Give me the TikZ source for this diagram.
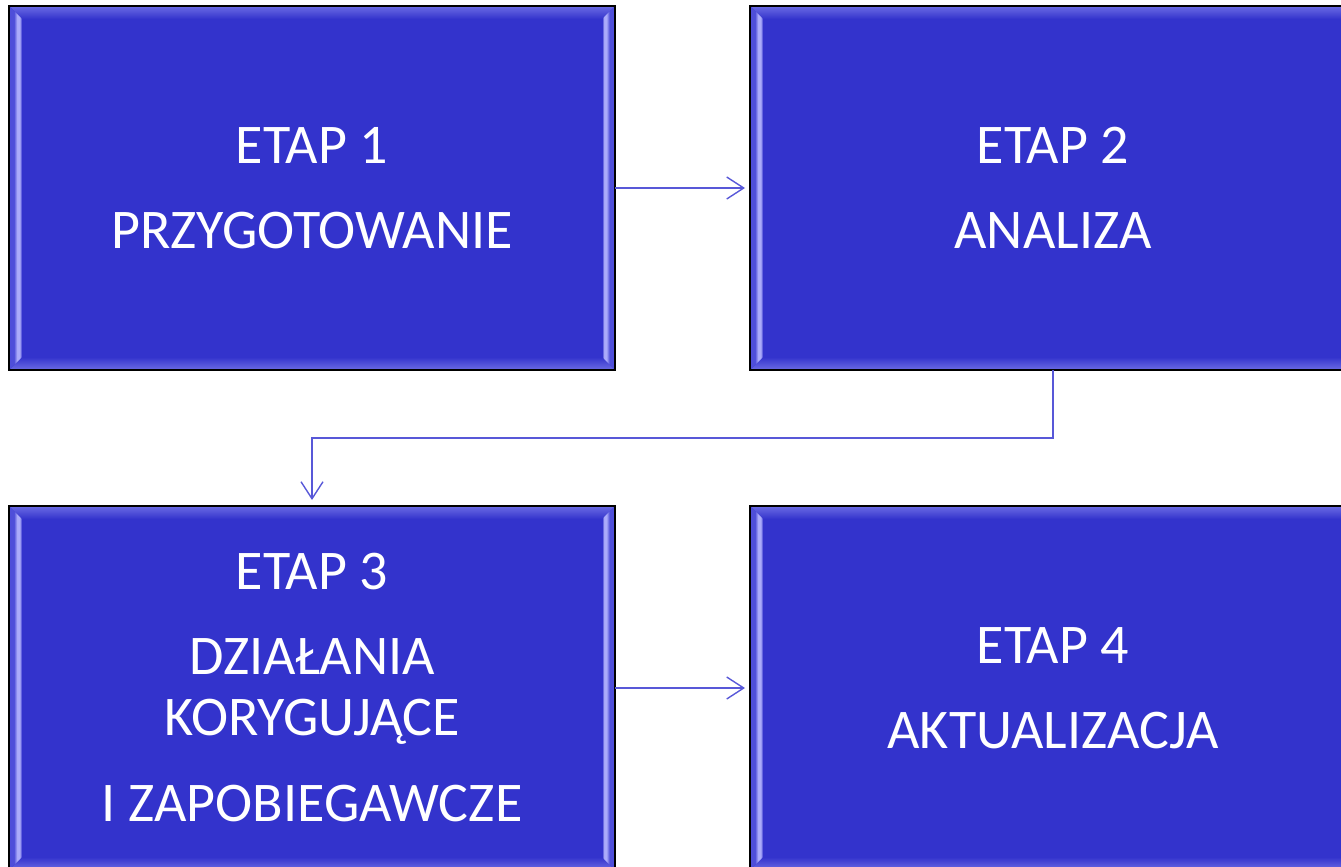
\documentclass[tikz,border=0pt]{standalone}
\usepackage{fontspec}
\setmainfont{Carlito}
\usetikzlibrary{positioning,arrows.meta}

\definecolor{etapfill}{HTML}{3333CC}
\definecolor{bevellight}{HTML}{ABABFA}
\definecolor{bevelmid}{HTML}{4E4ED9}
\definecolor{beveledge}{HTML}{6C6CE4}
\definecolor{linkblue}{HTML}{5858D8}

\pgfdeclarehorizontalshading{bevelleft}{100bp}{color(0bp)=(bevelmid); color(25bp)=(bevelmid);
  color(44bp)=(bevelmid); color(56bp)=(bevellight); color(66bp)=(bevellight);
  color(75bp)=(etapfill); color(100bp)=(etapfill)}
\pgfdeclarehorizontalshading{bevelright}{100bp}{color(0bp)=(etapfill); color(25bp)=(etapfill);
  color(33bp)=(bevellight); color(42bp)=(bevellight); color(54bp)=(bevelmid);
  color(75bp)=(bevelmid); color(100bp)=(bevelmid)}
\pgfdeclareverticalshading{beveltop}{100bp}{color(0bp)=(etapfill); color(25bp)=(etapfill);
  color(75bp)=(beveledge); color(100bp)=(beveledge)}
\pgfdeclareverticalshading{bevelbottom}{100bp}{color(0bp)=(beveledge); color(25bp)=(beveledge);
  color(75bp)=(etapfill); color(100bp)=(etapfill)}

\begin{document}
\begin{tikzpicture}[x=1pt, y=1pt, node distance=135pt,
  etap/.style={draw=black, line width=2pt, fill=etapfill, text=white,
    minimum width=606pt, minimum height=364pt, inner sep=0pt, outer sep=0pt,
    align=center, font=\fontsize{56}{61}\selectfont,
    path picture={
      \coordinate (nw) at (path picture bounding box.north west);
      \coordinate (ne) at (path picture bounding box.north east);
      \coordinate (sw) at (path picture bounding box.south west);
      \coordinate (se) at (path picture bounding box.south east);
      \shade[shading=beveltop] (nw) -- (ne) -- ([shift={(-13pt,-13pt)}]ne)
        -- ([shift={(13pt,-13pt)}]nw) -- cycle;
      \shade[shading=bevelbottom] (sw) -- (se) -- ([shift={(-13pt,13pt)}]se)
        -- ([shift={(13pt,13pt)}]sw) -- cycle;
      \shade[shading=bevelleft] (nw) -- ([shift={(13pt,-13pt)}]nw)
        -- ([shift={(13pt,13pt)}]sw) -- (sw) -- cycle;
      \shade[shading=bevelright] (ne) -- ([shift={(-13pt,-13pt)}]ne)
        -- ([shift={(-13pt,13pt)}]se) -- (se) -- cycle;
    }},
  link/.style={draw=linkblue, line width=1.4pt,
    -{Straight Barb[length=17pt,width=22pt]}, shorten >=5pt}]

  \useasboundingbox (0,0) rectangle (1341,-867);

  % etapy
  \node[etap] (etap1) at (312,-188) {ETAP 1\\[24pt]PRZYGOTOWANIE};
  \node[etap, right=of etap1] (etap2) {ETAP 2\\[24pt]ANALIZA};
  \node[etap, below=136pt of etap1] (etap3)
    {ETAP 3\\[24pt]DZIAŁANIA\\KORYGUJĄCE\\[25pt]I ZAPOBIEGAWCZE};
  \node[etap, right=of etap3] (etap4) {ETAP 4\\[24pt]AKTUALIZACJA};

  % strzalki
  \draw[link] (etap1) -- (etap2);
  \draw[link, shorten >=6pt] (etap2.south) -- ++(0,-68) -| (etap3.north);
  \draw[link] (etap3) -- (etap4);
\end{tikzpicture}
\end{document}
